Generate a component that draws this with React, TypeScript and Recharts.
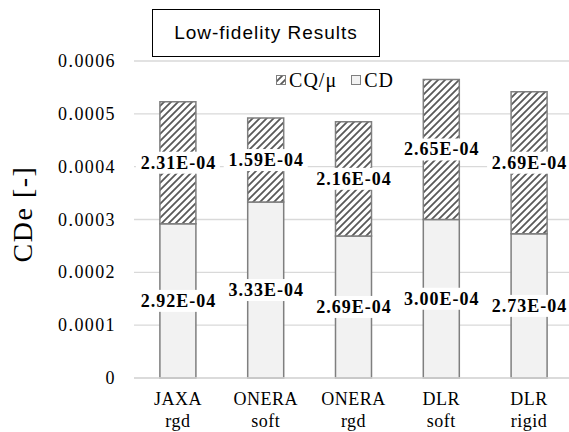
import React from 'react';
import { BarChart, Bar, XAxis, YAxis, CartesianGrid, Legend, LabelList } from 'recharts';

const groups = ['JAXA', 'ONERA', 'ONERA', 'DLR', 'DLR'];
const variants = ['rgd', 'soft', 'rgd', 'soft', 'rigid'];
const cdValues = [2.92e-4, 3.33e-4, 2.69e-4, 3.0e-4, 2.73e-4];
const cqValues = [2.31e-4, 1.59e-4, 2.16e-4, 2.65e-4, 2.69e-4];
const yTicks = [0, 0.0001, 0.0002, 0.0003, 0.0004, 0.0005, 0.0006];

const data = groups.map((g, i) => ({
  name: `${g}|${variants[i]}`,
  cd: cdValues[i],
  cq: cqValues[i]
}));

const serif = '"Liberation Serif", "Times New Roman", serif';
const sans = '"Liberation Sans", Arial, sans-serif';

const fmtLabel = (v: number) => `${(v / 1e-4).toFixed(2)}E-04`;

const ValueLabel = (props: any) => {
  const { x, y, width, height, value } = props;
  const cx = x + width / 2;
  const cy = y + height / 2;
  const w = 84;
  const h = 22;
  return <g>
      <rect x={cx - w / 2} y={cy - h / 2} width={w} height={h} fill="#ffffff" />
      <text x={cx + 0.5} y={cy} dy={6} textAnchor="middle" fontFamily={serif} fontWeight="bold" fontSize={18} letterSpacing={1} fill="#000">
        {fmtLabel(value)}
      </text>
    </g>;
};

const XTick = (props: any) => {
  const { x, payload } = props;
  const [a, b] = String(payload.value).split('|');
  return <g fontFamily={serif} fontSize={18} fill="#000" letterSpacing={0.5}>
      <text x={x} y={405} textAnchor="middle">{a}</text>
      <text x={x} y={427} textAnchor="middle">{b}</text>
    </g>;
};

const YTick = (props: any) => {
  const { y, payload } = props;
  const v = payload.value as number;
  return <text x={116} y={y} dy={6} textAnchor="end" fontFamily={serif} fontSize={18} letterSpacing={1.4} fill="#000">
      {v === 0 ? '0' : v.toFixed(4)}
    </text>;
};

const LegendBox = () => <div style={{
  display: 'flex',
  justifyContent: 'center',
  alignItems: 'center',
  fontFamily: serif,
  fontSize: 20,
  letterSpacing: 1,
  color: '#000',
  lineHeight: '22px'
}}>
    <svg width={10} height={10} style={{ marginRight: 3 }}>
      <rect x={0.5} y={0.5} width={9} height={9} fill="url(#hatch)" stroke="#7f7f7f" />
    </svg>
    <span style={{ marginRight: 14, fontFamily: serif }}>CQ/μ</span>
    <svg width={10} height={10} style={{ marginRight: 3 }}>
      <rect x={0.5} y={0.5} width={9} height={9} fill="#f2f2f2" stroke="#7f7f7f" />
    </svg>
    <span style={{ fontFamily: serif }}>CD</span>
  </div>;

export default function App() {
  return <div style={{
    position: 'fixed',
    left: 0,
    top: 0,
    width: 569,
    height: 432,
    overflow: 'hidden',
    background: '#fff'
  }}>
      <BarChart width={573} height={432} data={data} margin={{ top: 61, right: 0, bottom: 0, left: 0 }} barCategoryGap="29.5%">
        <defs>
          <pattern id="hatch" patternUnits="userSpaceOnUse" width={7} height={7}>
            <rect width={7} height={7} fill="#ffffff" />
            <path d="M0,7 L7,0 M-2,2 L2,-2 M5,9 L9,5" stroke="#595959" strokeWidth={1.8} />
          </pattern>
        </defs>
        <CartesianGrid vertical={false} stroke="#d9d9d9" strokeWidth={1.3} />
        <XAxis dataKey="name" height={54} tickLine={false} axisLine={{ stroke: '#d9d9d9', strokeWidth: 1.3 }} tick={<XTick />} interval={0} />
        <YAxis width={134} domain={[0, 0.0006]} ticks={yTicks} tickLine={false} axisLine={false} tick={<YTick />}
          label={{
            content: () => <text x={32} y={214} transform="rotate(-90, 32, 214)" textAnchor="middle" fontFamily={serif} fontSize={28} letterSpacing={1.5} fill="#000">CDe [-]</text>
          }} />
        <Legend verticalAlign="middle" align="center" content={<LegendBox />} wrapperStyle={{ top: 69, left: 135, width: 400 }} />
        <Bar dataKey="cd" name="CD" stackId="s" fill="#f2f2f2" stroke="#7f7f7f" strokeWidth={1.5} isAnimationActive={false}>
          <LabelList dataKey="cd" content={<ValueLabel />} />
        </Bar>
        <Bar dataKey="cq" name="CQ/μ" stackId="s" fill="url(#hatch)" stroke="#7f7f7f" strokeWidth={1.5} isAnimationActive={false}>
          <LabelList dataKey="cq" content={<ValueLabel />} />
        </Bar>
      </BarChart>
      <div style={{
      position: 'absolute',
      left: 152,
      top: 9,
      width: 226,
      height: 46,
      border: '1px solid #000',
      background: '#fff',
      display: 'flex',
      alignItems: 'center',
      justifyContent: 'center',
      fontFamily: sans,
      fontSize: 19,
      letterSpacing: 1,
      color: '#000'
    }}>
        Low-fidelity Results
      </div>
    </div>;
}
